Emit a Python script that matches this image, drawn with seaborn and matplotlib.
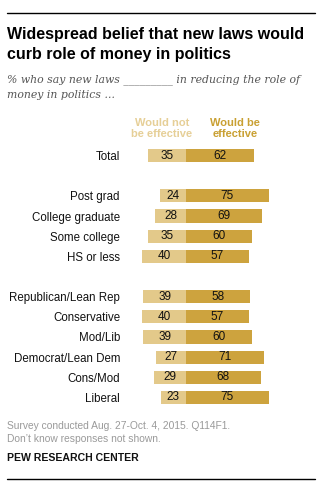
import matplotlib
matplotlib.use("Agg")
import matplotlib.pyplot as plt
import seaborn as sns
import pandas as pd

groups = ["Total", "Post grad", "College graduate", "Some college", "HS or less",
          "Republican/Lean Rep", "Conservative", "Mod/Lib", "Democrat/Lean Dem",
          "Cons/Mod", "Liberal"]
not_effective = [35, 24, 28, 35, 40, 39, 40, 39, 27, 29, 23]
effective = [62, 75, 69, 60, 57, 58, 57, 60, 71, 68, 75]

# layout: row slots (blank slot after Total and after HS or less)
row_pos = [0, 2, 3, 4, 5, 7, 8, 9, 10, 11, 12]

LIGHT = "#E3C98A"
DARK = "#CDA33E"

sns.set_theme(style="white")
plt.rcParams["font.family"] = ["Liberation Sans", "DejaVu Sans"]

W, H = 324, 488
fig = plt.figure(figsize=(W / 100, H / 100), dpi=100)

def fx(px):
    return px / W

def fy(py):
    return 1 - py / H

# axes placement
left_px, right_px = 130, 300
top_px, bot_px = 145.5, 407.5
ax = fig.add_axes([fx(left_px), fy(bot_px), fx(right_px - left_px), (bot_px - top_px) / H])

df = pd.DataFrame({"group": groups, "pos": row_pos,
                   "neg": [-v for v in not_effective], "eff": effective})

sns.barplot(data=df, x="neg", y="pos", orient="h", native_scale=True,
            color=LIGHT, saturation=1, width=0.65, ax=ax, linewidth=0)
sns.barplot(data=df, x="eff", y="pos", orient="h", native_scale=True,
            color=DARK, saturation=1, width=0.65, ax=ax, linewidth=0)

scale = 1.1  # px per unit
x0 = (left_px - 186) / scale
x1 = (right_px - 186) / scale
ax.set_xlim(x0, x1)
ax.set_ylim(12.5, -0.5)

for p, a, b in zip(row_pos, not_effective, effective):
    ax.text(-a / 2, p, str(a), ha="center", va="center", fontsize=8.5, color="#111111")
    ax.text(b / 2, p, str(b), ha="center", va="center", fontsize=8.5, color="#111111")

ax.set_yticks(row_pos)
ax.set_yticklabels(groups, fontsize=8.3, color="#111111")
ax.tick_params(axis="y", length=0, pad=7.2)
ax.set_xticks([])
ax.set_xlabel("")
ax.set_ylabel("")
for s in ax.spines.values():
    s.set_visible(False)
ax.patch.set_alpha(0)

# rules
fig.add_artist(plt.Line2D([fx(7), fx(315)], [fy(13), fy(13)], color="black", lw=1.0))
fig.add_artist(plt.Line2D([fx(7), fx(315)], [fy(479), fy(479)], color="black", lw=1.0))

# title
fig.text(fx(7), fy(35), "Widespread belief that new laws would", fontsize=11.5,
         fontweight="bold", color="#000000", va="center", ha="left")
fig.text(fx(7), fy(55), "curb role of money in politics", fontsize=11.5,
         fontweight="bold", color="#000000", va="center", ha="left")

# subtitle
sub_kw = dict(fontsize=7.8, style="italic", color="#555555", va="center", ha="left",
              family=["DejaVu Serif"])
fig.text(fx(7), fy(80), "% who say new laws _________ in reducing the role of", **sub_kw)
fig.text(fx(7), fy(95), "money in politics ...", **sub_kw)

# column headers
fig.text(fx(162), fy(128.5), "Would not\nbe effective", fontsize=8, fontweight="bold",
         color="#E6CF97", ha="center", va="center", linespacing=1.05)
fig.text(fx(235), fy(128.5), "Would be\neffective", fontsize=8, fontweight="bold",
         color="#C9A032", ha="center", va="center", linespacing=1.05)

# footer
fig.text(fx(7), fy(426), "Survey conducted Aug. 27-Oct. 4, 2015. Q114F1.", fontsize=7.4,
         color="#9A9A9A", ha="left", va="center")
fig.text(fx(7), fy(438.5), "Don\u2019t know responses not shown.", fontsize=7.4,
         color="#9A9A9A", ha="left", va="center")
fig.text(fx(7), fy(458), "PEW RESEARCH CENTER", fontsize=7.6, fontweight="bold",
         color="#111111", ha="left", va="center")

fig.savefig("out.png", dpi=100)
